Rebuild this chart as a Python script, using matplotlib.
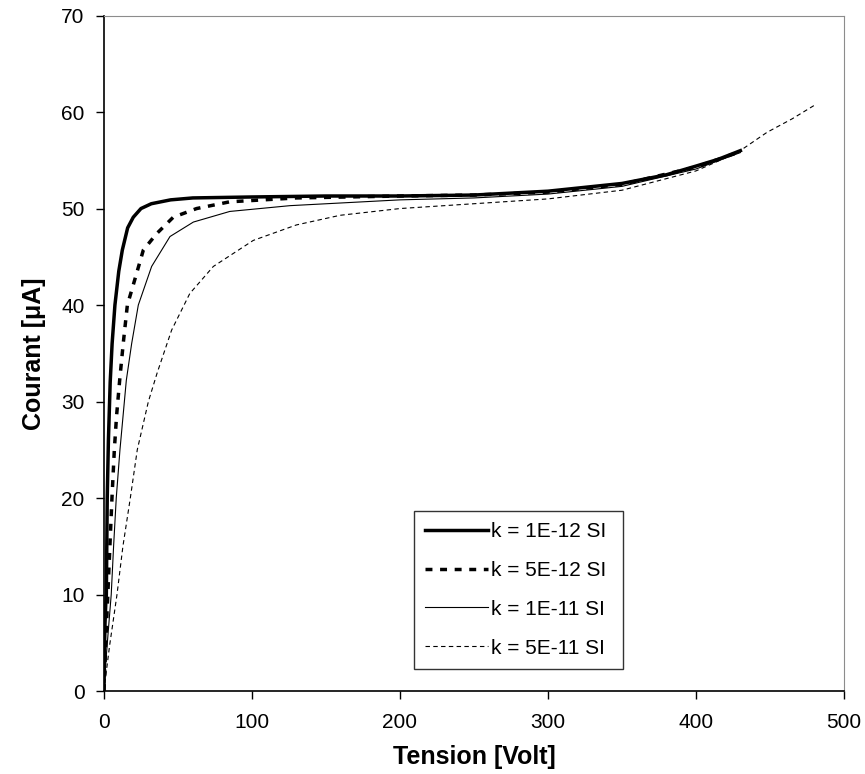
"""Courant en fonction de la tension pour quatre valeurs de k."""

import matplotlib

matplotlib.use("Agg")
import matplotlib.pyplot as plt

plt.rcParams["font.family"] = ["Liberation Sans", "DejaVu Sans"]

# k = 1E-12 SI
v_k1 = [0, 0.3, 0.7, 1.2, 1.6, 2.2, 3.0, 4.2, 5.5, 7.4, 10, 12.4, 16, 19.8,
        25, 32, 45, 60, 100, 150, 200, 250, 300, 350, 380, 400, 415, 430]
i_k1 = [0, 4, 7, 9, 10, 20, 26, 32, 36, 40, 43.5, 45.7, 48, 49.1,
        50.0, 50.5, 50.9, 51.1, 51.2, 51.3, 51.3, 51.4, 51.8, 52.6, 53.5,
        54.4, 55.1, 56.0]

# k = 5E-12 SI
v_k2 = [0, 1.2, 2.6, 4.0, 5.4, 7.0, 8.5, 10.6, 13, 15.8, 20, 26.6, 35.6,
        46.8, 62.6, 85, 130, 200, 250, 300, 350, 400, 430]
i_k2 = [0, 5, 10, 15, 20, 25, 28.5, 32.2, 36, 40, 42.2, 45.7, 47.4,
        49.1, 50.0, 50.7, 51.1, 51.3, 51.4, 51.7, 52.5, 54.3, 55.9]

# k = 1E-11 SI
v_k3 = [0, 1.5, 3.0, 4.9, 6.5, 8.3, 10.8, 15.1, 18.7, 23.2, 32.2, 44.6,
        60.4, 85, 125.7, 200, 250, 300, 350, 400, 430]
i_k3 = [0, 3.5, 6.4, 10, 15, 20, 25, 32.2, 36, 40, 44, 47.1,
        48.6, 49.7, 50.3, 50.9, 51.1, 51.5, 52.3, 54.1, 55.8]

# k = 5E-11 SI
v_k4 = [0, 0.9, 3.8, 8.8, 12.8, 17.8, 22.5, 30, 36, 45.7, 58, 73.9, 100.9,
        130, 159.5, 200, 250, 300, 350, 400, 428, 448, 465, 480]
i_k4 = [0, 1.2, 4.7, 10, 15, 20, 25, 30, 33, 37.4, 41.2, 44, 46.7,
        48.3, 49.3, 50.0, 50.5, 51.0, 51.9, 53.9, 55.8, 57.9, 59.3, 60.7]

labels = ["k = 1E-12 SI", "k = 5E-12 SI", "k = 1E-11 SI", "k = 5E-11 SI"]

fig = plt.figure(figsize=(8.65, 7.74), dpi=100)
ax = fig.add_axes([0.1202, 0.1072, 0.8555, 0.8727])

ax.plot(v_k1, i_k1, color="black", lw=2.5, label=labels[0])
ax.plot(v_k2, i_k2, color="black", lw=2.5, linestyle=(0, (2.0, 2.2)),
        dash_capstyle="butt", label=labels[1])
ax.plot(v_k3, i_k3, color="black", lw=0.8, label=labels[2])
ax.plot(v_k4, i_k4, color="black", lw=0.8, linestyle=(0, (4, 3)),
        label=labels[3])

ax.set_xlim(0, 500)
ax.set_ylim(0, 70)
ax.set_xticks(range(0, 501, 100))
ax.set_yticks(range(0, 71, 10))
ax.tick_params(direction="out", length=6, width=1, labelsize=15, pad=8,
               colors="black")
ax.tick_params(axis="x", pad=10)

for side in ("top", "right"):
    ax.spines[side].set_color("#8c8c8c")
for side in ("left", "bottom"):
    ax.spines[side].set_color("black")
    ax.spines[side].set_linewidth(1.2)

ax.set_xlabel("Tension [Volt]", fontsize=18, fontweight="bold", labelpad=9)
ax.set_ylabel("Courant [μA]", fontsize=18, fontweight="bold", labelpad=11)

leg = ax.legend(loc="lower left", bbox_to_anchor=(0.419, 0.0326, 0.282, 0.245),
                mode="expand", borderaxespad=0, fontsize=15, frameon=True,
                fancybox=False, edgecolor="black", handlelength=3.0,
                handletextpad=0.15, labelspacing=0.95, borderpad=0.55)
leg.get_frame().set_linewidth(1.0)

fig.savefig("out.png", dpi=100)
